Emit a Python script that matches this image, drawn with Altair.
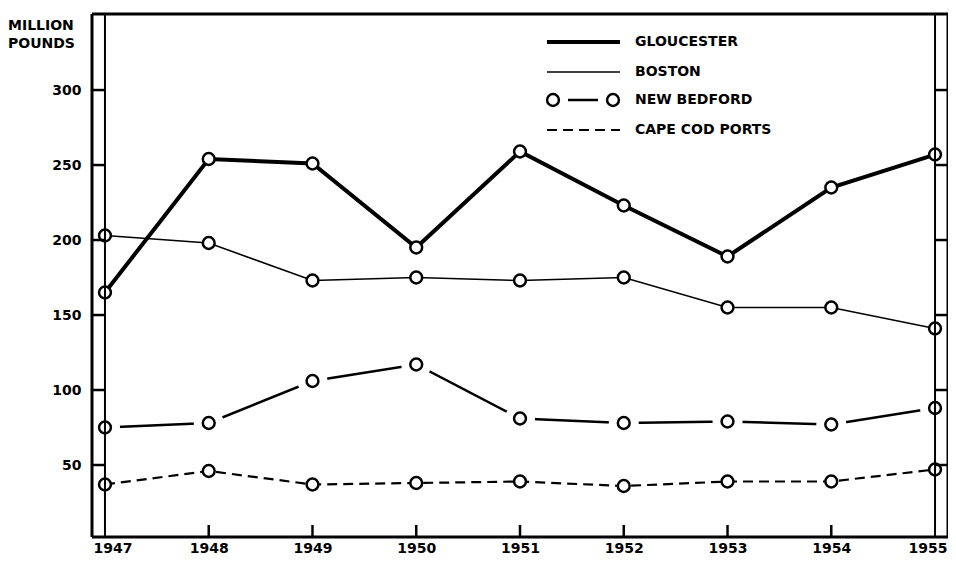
import altair as alt
import pandas as pd

years = [1947, 1948, 1949, 1950, 1951, 1952, 1953, 1954, 1955]
gloucester = [165, 254, 251, 195, 259, 223, 189, 235, 257]
boston = [203, 198, 173, 175, 173, 175, 155, 155, 141]
new_bedford = [75, 78, 106, 117, 81, 78, 79, 77, 88]
cape_cod = [37, 46, 37, 38, 39, 36, 39, 39, 47]
series_names = ["GLOUCESTER", "BOSTON", "NEW BEDFORD", "CAPE COD PORTS"]
y_ticks = [50, 100, 150, 200, 250, 300]
x_ticks = years
edge_years = [1947, 1955]
inner_years = years[1:-1]
y_title = ["MILLION", "POUNDS"]

W, H = 856, 523
FONT = "DejaVu Sans"

xs = alt.Scale(domain=[1946.875, 1955.125], nice=False, zero=False)
ys = alt.Scale(domain=[2, 350.7], nice=False, zero=False)
x_axis = alt.Axis(values=x_ticks, format="d", title=None, ticks=False, domain=False, grid=False,
                  labelFont=FONT, labelFontSize=14, labelFontWeight="bold", labelColor="black",
                  labelPadding=4, labelFlush=15, labelFlushOffset=12)
y_axis = alt.Axis(values=y_ticks, format="d", title=None, ticks=False, domain=False, grid=False,
                  labelFont=FONT, labelFontSize=14, labelFontWeight="bold", labelColor="black",
                  labelPadding=11)

X = alt.X("year:Q", scale=xs, axis=x_axis)
Y = alt.Y("v:Q", scale=ys, axis=y_axis)

def df(vals):
    return pd.DataFrame({"year": years, "v": vals})

g_df, b_df, nb_df, cc_df = df(gloucester), df(boston), df(new_bedford), df(cape_cod)

g_line = alt.Chart(g_df).mark_line(color="black", strokeWidth=4).encode(x=X, y=Y)
b_line = alt.Chart(b_df).mark_line(color="black", strokeWidth=1.6).encode(x=X, y=Y)
nb_line = alt.Chart(nb_df).mark_line(color="black", strokeWidth=2.5).encode(x=X, y=Y)
cc_line = alt.Chart(cc_df).mark_line(color="black", strokeWidth=2.2, strokeDash=[10, 6]).encode(x=X, y=Y)

halo = alt.Chart(nb_df).mark_circle(color="white", size=900, opacity=1).encode(x=X, y=Y)

def circles(d):
    return alt.Chart(d).mark_point(shape="circle", fill="white", stroke="black", fillOpacity=1,
                                   strokeWidth=2.5, size=140, opacity=1).encode(x=X, y=Y)

edge_rules = alt.Chart(pd.DataFrame({"year": edge_years})).mark_rule(
    color="black", strokeWidth=2).encode(x=X)

one = pd.DataFrame({"a": [0]})

frame = [
    alt.Chart(one).mark_rule(color="black", strokeWidth=3).encode(x=alt.value(0), y=alt.value(0), y2=alt.value(H)),
    alt.Chart(one).mark_rule(color="black", strokeWidth=3).encode(x=alt.value(W), y=alt.value(0), y2=alt.value(H)),
    alt.Chart(one).mark_rule(color="black", strokeWidth=3).encode(y=alt.value(0), x=alt.value(0), x2=alt.value(W)),
    alt.Chart(one).mark_rule(color="black", strokeWidth=3).encode(y=alt.value(H), x=alt.value(0), x2=alt.value(W)),
]

tick_df = pd.DataFrame({"v": y_ticks})
left_ticks = alt.Chart(tick_df).mark_rule(color="black", strokeWidth=2.5).encode(
    y=Y, x=alt.value(0), x2=alt.value(13))
right_ticks = alt.Chart(tick_df).mark_rule(color="black", strokeWidth=2.5).encode(
    y=Y, x=alt.value(843), x2=alt.value(W))
bottom_ticks = alt.Chart(pd.DataFrame({"year": inner_years})).mark_rule(
    color="black", strokeWidth=2.5).encode(x=X, y=alt.value(H), y2=alt.value(H - 12))


def text(label, x, y, size=14):
    return alt.Chart(one).mark_text(align="left", baseline="middle", font=FONT, fontSize=size,
                                    fontWeight="bold", color="black").encode(
        x=alt.value(x), y=alt.value(y), text=alt.value(label))

def seg(x1, x2, y, sw, dash=None):
    kw = dict(color="black", strokeWidth=sw)
    if dash:
        kw["strokeDash"] = dash
    return alt.Chart(one).mark_rule(**kw).encode(x=alt.value(x1), x2=alt.value(x2), y=alt.value(y))

def lg_circle(x, y):
    return alt.Chart(one).mark_point(shape="circle", fill="white", stroke="black", fillOpacity=1,
                                     strokeWidth=2.5, size=140, opacity=1).encode(
        x=alt.value(x), y=alt.value(y))

legend = [
    seg(455, 528, 28, 4), text(series_names[0], 543, 28),
    seg(455, 528, 58, 1.6), text(series_names[1], 543, 58),
    seg(476, 506, 86, 2.5), lg_circle(461, 86), lg_circle(521, 86), text(series_names[2], 543, 86),
    seg(455, 528, 116, 2.2, [10, 6]), text(series_names[3], 543, 116),
]

titles = [text(y_title[0], -84, 12, 14), text(y_title[1], -84, 30, 14)]

chart = alt.layer(
    g_line, b_line, nb_line, cc_line, halo,
    circles(g_df), circles(b_df), circles(nb_df), circles(cc_df),
    edge_rules, *frame, left_ticks, right_ticks, bottom_ticks,
    *legend, *titles,
).properties(
    width=W, height=H,
    autosize=alt.AutoSizeParams(type="none"),
    padding={"left": 84, "top": 6, "right": 0, "bottom": 17},
).configure_view(stroke=None)

chart.save("out.html", embed_options={"renderer": "svg", "actions": False})
